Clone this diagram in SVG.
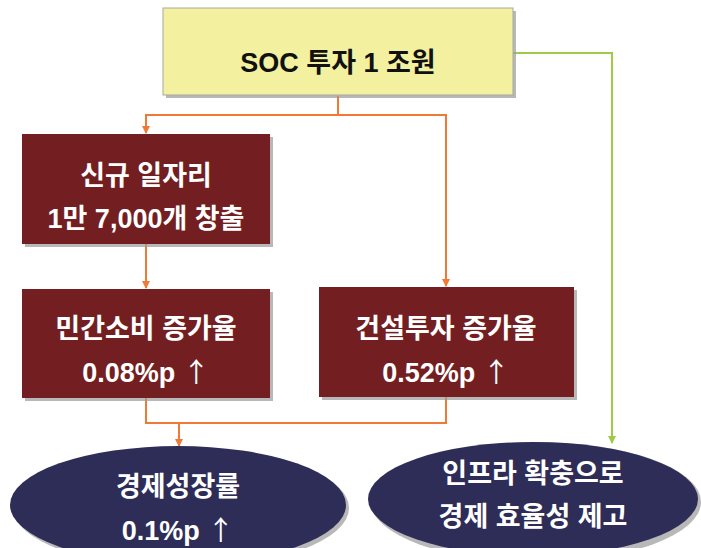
<svg xmlns="http://www.w3.org/2000/svg" width="701" height="548" viewBox="0 0 701 548">
<style>
.t{font-family:"Liberation Sans","Noto Sans CJK KR",sans-serif;font-weight:bold;text-anchor:middle}
.w{fill:#ffffff;font-size:27px}
.ar{font-family:"Noto Sans CJK KR",sans-serif;font-weight:normal}
.box{fill:#731F21}
.sh{fill:#9a9a9a;opacity:0.7}
.ell{fill:#2E2D57}
.o{fill:none;stroke:#F07A35;stroke-width:2}
.g{fill:none;stroke:#9DCB45;stroke-width:2}
</style>
<defs>
<marker id="ao" markerWidth="8" markerHeight="8" refX="7" refY="4" orient="auto" markerUnits="userSpaceOnUse"><path d="M0,0 L8,4 L0,8 z" fill="#F07A35"/></marker>
<marker id="ag" markerWidth="8" markerHeight="8" refX="7" refY="4" orient="auto" markerUnits="userSpaceOnUse"><path d="M0,0 L8,4 L0,8 z" fill="#9DCB45"/></marker>
</defs>
<rect width="701" height="548" fill="#ffffff"/>
<g id="connectors">
<path class="o" d="M338,96 V115 H146 V133" marker-end="url(#ao)"/>
<path class="o" d="M338,115 H446 V286" marker-end="url(#ao)"/>
<path class="o" d="M146,244 V288" marker-end="url(#ao)"/>
<path class="o" d="M146,398 V423 H446 V397"/>
<path class="o" d="M179,423 V446" marker-end="url(#ao)"/>
<path class="g" d="M513,53 H612 V443" marker-end="url(#ag)"/>
</g>
<g id="soc">
<rect class="sh" x="166" y="11" width="350" height="87"/>
<rect x="163" y="8" width="350" height="87" fill="#F3F0A0" stroke="#A8A8A0" stroke-width="1"/>
<text class="t" x="338" y="72" font-size="27" fill="#111111">SOC 투자 1 조원</text>
</g>
<g id="jobs">
<rect class="sh" x="25" y="137" width="248" height="110"/>
<rect class="box" x="22" y="134" width="248" height="110"/>
<text class="t w" x="146" y="185">신규 일자리</text>
<text class="t w" x="146" y="228">1만 7,000개 창출</text>
</g>
<g id="consumption">
<rect class="sh" x="25" y="292" width="248" height="109"/>
<rect class="box" x="22" y="289" width="248" height="109"/>
<text class="t w" x="146" y="338">민간소비 증가율</text>
<text class="t w" x="146" y="382">0.08%p <tspan class="ar">↑</tspan></text>
</g>
<g id="construction">
<rect class="sh" x="322" y="290" width="255" height="110"/>
<rect class="box" x="319" y="287" width="255" height="110"/>
<text class="t w" x="446" y="338">건설투자 증가율</text>
<text class="t w" x="446" y="382">0.52%p <tspan class="ar">↑</tspan></text>
</g>
<g id="growth">
<ellipse class="sh" cx="181" cy="508" rx="168" ry="60"/>
<ellipse class="ell" cx="178" cy="505" rx="168" ry="59"/>
<text class="t w" x="178" y="496">경제성장률</text>
<text class="t w" x="178" y="540">0.1%p <tspan class="ar">↑</tspan></text>
</g>
<g id="efficiency">
<ellipse class="sh" cx="536" cy="502" rx="165" ry="60"/>
<ellipse class="ell" cx="533" cy="499" rx="165" ry="57"/>
<text class="t w" x="533" y="483">인프라 확충으로</text>
<text class="t w" x="533" y="526">경제 효율성 제고</text>
</g>
</svg>
